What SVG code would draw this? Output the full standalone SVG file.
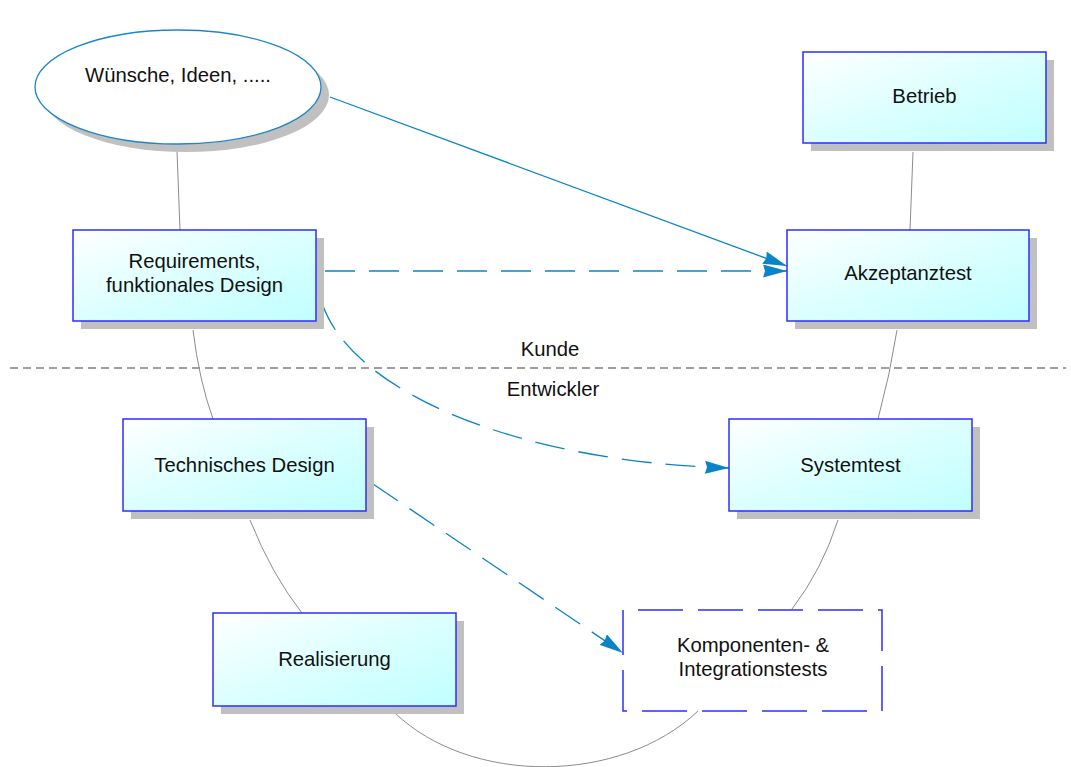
<svg xmlns="http://www.w3.org/2000/svg" width="1071" height="767" viewBox="0 0 1071 767">
  <defs>
    <linearGradient id="boxFill" x1="0" y1="0" x2="1" y2="1">
      <stop offset="0" stop-color="#ffffff"/>
      <stop offset="0.5" stop-color="#dcffff"/>
      <stop offset="1" stop-color="#c0ffff"/>
    </linearGradient>
    <marker id="arrow" markerWidth="24" markerHeight="13" refX="24" refY="6.5" orient="auto" markerUnits="userSpaceOnUse">
      <path d="M0,0 L24,6.5 L0,13 L2,6.5 Z" fill="#0a84c6"/>
    </marker>
    <style>
      .shadow { fill: #c0c0c0; }
      .box { fill: url(#boxFill); stroke: #2e2eff; stroke-width: 1.5; }
      .label { font-family: "Liberation Sans", Arial, sans-serif; font-size: 20.3px; fill: #111111; text-anchor: middle; }
      .phase { fill: none; stroke: #8c8c8c; stroke-width: 1; }
      .flow { fill: none; stroke: #0a84c6; stroke-width: 1.3; }
      .dashed { stroke-dasharray: 30 14; }
    </style>
  </defs>

  <rect width="1071" height="767" fill="#ffffff"/>

  <!-- boundary between customer and developer -->
  <g id="boundary">
    <line x1="10" y1="368" x2="1066" y2="368" stroke="#808080" stroke-width="1.6" stroke-dasharray="8 5"/>
    <text class="label" x="550" y="356">Kunde</text>
    <text class="label" x="553" y="396">Entwickler</text>
  </g>

  <!-- connectors -->
  <g id="connectors">
    <!-- V-model phase links -->
    <path class="phase" d="M177 151 L180 230"/>
    <path class="phase" d="M193 330 Q199 380 213 419"/>
    <path class="phase" d="M250 520 Q272 575 302 613"/>
    <path class="phase" d="M395 713 C470 785 620 785 698 711"/>
    <path class="phase" d="M792 609 Q822 570 838 520"/>
    <path class="phase" d="M878 419 Q890 375 897 330"/>
    <path class="phase" d="M913 152 L910 230"/>
    <!-- verification flows -->
    <path class="flow" d="M330 97 L787 266" marker-end="url(#arrow)"/>
    <path class="flow dashed" d="M325 271 L787 271" marker-end="url(#arrow)"/>
    <path class="flow dashed" d="M322 303 C352 393 520 462 729 468" marker-end="url(#arrow)"/>
    <path class="flow dashed" d="M373 484 L623 653" marker-end="url(#arrow)"/>
  </g>

  <g id="wuensche">
    <ellipse class="shadow" cx="186" cy="95" rx="143" ry="57"/>
    <ellipse cx="178" cy="87" rx="143" ry="57" fill="#ffffff" stroke="#1a86cc" stroke-width="1.3"/>
    <text class="label" x="178" y="82">Wünsche, Ideen, .....</text>
  </g>

  <g id="requirements">
    <rect class="shadow" x="81" y="238" width="243" height="91"/>
    <rect class="box" x="73" y="230" width="243" height="91"/>
    <text class="label" x="194.5" y="268">Requirements,</text>
    <text class="label" x="194.5" y="292">funktionales Design</text>
  </g>

  <g id="betrieb">
    <rect class="shadow" x="811" y="60" width="243" height="91"/>
    <rect class="box" x="803" y="52" width="243" height="91"/>
    <text class="label" x="924.5" y="103">Betrieb</text>
  </g>

  <g id="akzeptanztest">
    <rect class="shadow" x="795" y="238" width="242" height="91"/>
    <rect class="box" x="787" y="230" width="242" height="91"/>
    <text class="label" x="908" y="280">Akzeptanztest</text>
  </g>

  <g id="technisches-design">
    <rect class="shadow" x="131" y="427" width="243" height="92"/>
    <rect class="box" x="123" y="419" width="243" height="92"/>
    <text class="label" x="244.5" y="472">Technisches Design</text>
  </g>

  <g id="systemtest">
    <rect class="shadow" x="737" y="427" width="243" height="92"/>
    <rect class="box" x="729" y="419" width="243" height="92"/>
    <text class="label" x="850.5" y="472">Systemtest</text>
  </g>

  <g id="realisierung">
    <rect class="shadow" x="221" y="621" width="243" height="93"/>
    <rect class="box" x="213" y="613" width="243" height="93"/>
    <text class="label" x="334.5" y="666">Realisierung</text>
  </g>

  <g id="komponententests">
    <path d="M623 610 V711 H882 V610 Z" fill="#ffffff" stroke="#2e2eff" stroke-width="1.5" stroke-dasharray="45 15"/>
    <text class="label" x="753" y="652">Komponenten- &amp;</text>
    <text class="label" x="753" y="676">Integrationstests</text>
  </g>
</svg>
